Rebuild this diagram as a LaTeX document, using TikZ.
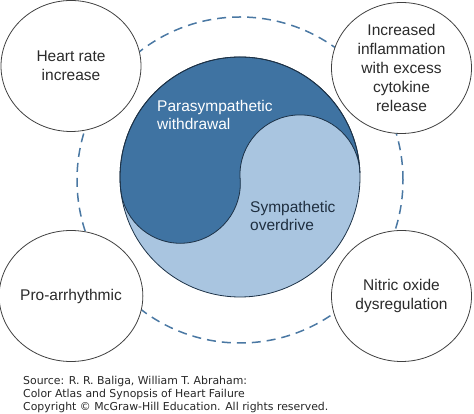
\documentclass[tikz,border=0pt]{standalone}
\usepackage{fontspec}
\setmainfont{Liberation Sans}
\newfontfamily\srcfont{DejaVu Sans}
\usetikzlibrary{shapes.geometric,calc}
\definecolor{darkblue}{HTML}{3F73A2}
\definecolor{lightblue}{HTML}{A9C5E0}
\definecolor{ringblue}{HTML}{4A78A3}
\definecolor{rimnavy}{HTML}{1D3247}
\definecolor{txtgray}{HTML}{2B2B2B}
\definecolor{symtext}{HTML}{1F2F40}
\begin{document}
\begin{tikzpicture}[x=1pt,y=1pt,
  effect/.style={draw=black!75, line width=0.8pt, fill=white, ellipse, inner sep=0pt,
    minimum width=140pt, minimum height=131pt, align=center, text=txtgray,
    font=\fontsize{15.5}{19}\selectfont},
  innertext/.style={anchor=base west, align=left, inner sep=0pt,
    font=\fontsize{15.5}{18.5}\selectfont},
  srctext/.style={anchor=base west, align=left, inner sep=0pt, text=black!85,
    font=\srcfont\fontsize{10.9}{13}\selectfont}]
\useasboundingbox (0,0) rectangle (474,414);
% dashed ring
\coordinate (R) at (240,234);
\draw[ringblue, line width=1.5pt, dash pattern=on 9pt off 6pt] (R) circle[radius=163];
% yin-yang
\coordinate (C) at (240,237);
\fill[lightblue] (C) circle[radius=120];
\filldraw[fill=darkblue, draw=rimnavy, line width=0.8pt]
  ($(C)+(2:120)$) arc[start angle=2, end angle=186, radius=120]
  arc[start angle=186, end angle=366, radius=60]
  arc[start angle=182, end angle=2, radius=60] -- cycle;
\draw[rimnavy, line width=0.8pt] (C) circle[radius=120];
% texts: anchor = baseline of the last line
\node[innertext, text=white] (para) at (157,284) {Parasympathetic\\withdrawal};
\node[innertext, text=symtext] (symp) at (250,183) {Sympathetic\\overdrive};
% outer effects
\node[effect] (hr) at (71,348) {Heart rate\\increase};
\node[effect] (infl) at (401.5,346) {Increased\\inflammation\\with excess\\cytokine\\release};
\node[effect] (arr) at (71,118) {Pro-arrhythmic};
\node[effect] (no) at (401.5,118) {Nitric oxide\\dysregulation};
% source
\node[srctext] (src) at (23,3.5) {Source: R. R. Baliga, William T. Abraham:\\Color Atlas and Synopsis of Heart Failure\\Copyright \textcopyright{} McGraw-Hill Education. All rights reserved.};
\end{tikzpicture}
\end{document}
